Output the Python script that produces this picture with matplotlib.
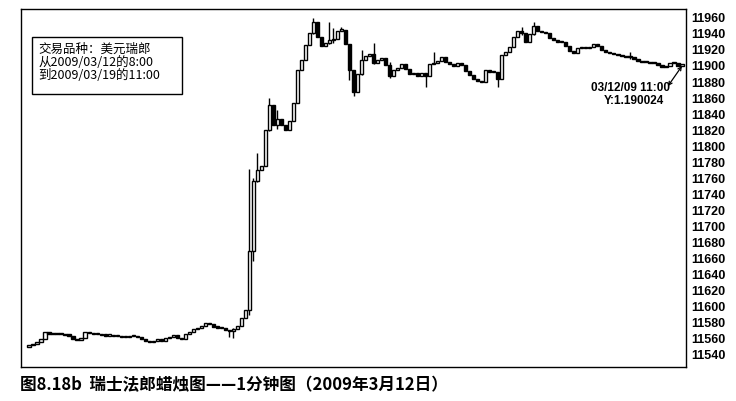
import numpy as np
import matplotlib
matplotlib.use("Agg")
import matplotlib.pyplot as plt
from matplotlib.patches import Rectangle

plt.rcParams['font.family'] = ['Noto Sans CJK SC', 'DejaVu Sans']

# 1-minute closes, USD/CHF
first_open = 11550
closes = [
    11552, 11554, 11556, 11560, 11569, 11566, 11566, 11567, 11566, 11565,
    11564, 11560, 11559, 11561, 11568, 11567, 11566, 11566, 11565, 11564,
    11564, 11563, 11563, 11562, 11562, 11563, 11564, 11562, 11560, 11557,
    11556, 11558, 11559, 11558, 11561, 11562, 11565, 11561, 11560, 11566,
    11569, 11572, 11574, 11576, 11580, 11578, 11575, 11574, 11573, 11571,
    11570, 11572, 11576, 11586, 11596, 11670, 11757, 11770, 11775, 11820,
    11851, 11826, 11834, 11826, 11820, 11832, 11854, 11895, 11907, 11926,
    11941, 11955, 11936, 11925, 11929, 11932, 11934, 11944, 11945, 11927,
    11895, 11867, 11890, 11907, 11912, 11915, 11904, 11907, 11910, 11901,
    11887, 11895, 11897, 11902, 11896, 11890, 11891, 11887, 11891, 11887,
    11902, 11904, 11906, 11911, 11905, 11902, 11900, 11904, 11901, 11894,
    11889, 11884, 11881, 11880, 11895, 11892, 11892, 11884, 11914, 11917,
    11924, 11936, 11944, 11941, 11930, 11940, 11950, 11944, 11942, 11941,
    11935, 11932, 11930, 11930, 11925, 11919, 11916, 11922, 11924, 11922,
    11924, 11927, 11925, 11920, 11917, 11916, 11915, 11914, 11912, 11911,
    11911, 11909, 11906, 11905, 11905, 11904, 11904, 11901, 11899, 11900,
    11904, 11904, 11900, 11902,
]

# candles with visible wicks: index, high, low
wick_idx = [50, 51, 55, 56, 57, 60, 62, 71, 75, 76, 78, 80, 81, 83, 86, 90, 99, 101, 117, 123, 126, 150]
wick_hi = [11571, 11573, 11772, 11761, 11791, 11860, 11845, 11960, 11955, 11947, 11948, 11927, 11895, 11920, 11929, 11905, 11891, 11917, 11892, 11949, 11955, 11917]
wick_lo = [11562, 11561, 11590, 11657, 11755, 11819, 11822, 11940, 11928, 11929, 11943, 11882, 11862, 11889, 11902, 11885, 11874, 11902, 11874, 11939, 11938, 11909]

y_ticks = list(range(11540, 11961, 20))
info_text = "交易品种：美元瑞郎\n从2009/03/12的8:00\n到2009/03/19的11:00"
caption = "图8.18b  瑞士法郎蜡烛图——1分钟图（2009年3月12日）"
note_time = "03/12/09 11:00"
note_value = "Y:1.190024"

closes = np.array(closes, dtype=float)
opens = np.concatenate([[first_open], closes[:-1]])
x = np.arange(len(closes))
highs = np.maximum(opens, closes)
lows = np.minimum(opens, closes)
for i, h, l in zip(wick_idx, wick_hi, wick_lo):
    highs[i] = max(highs[i], h)
    lows[i] = min(lows[i], l)

fig = plt.figure(figsize=(7.36, 4.01), dpi=100)
ax = fig.add_axes([21 / 736, 1 - 367 / 401, 665 / 736, 358 / 401])

ax.vlines(x, lows, highs, color='black', linewidth=1.0, zorder=1)
up = closes >= opens
body = np.maximum(np.abs(closes - opens), 1.5)
ax.bar(x[up], body[up], bottom=opens[up], width=0.8,
       facecolor='white', edgecolor='black', linewidth=1.0, zorder=2)
ax.bar(x[~up], body[~up], bottom=closes[~up], width=0.8,
       facecolor='black', edgecolor='black', linewidth=1.0, zorder=2)

ax.set_xlim(-2, 164)
ax.set_ylim(11525, 11971)
ax.set_xticks([])
ax.yaxis.tick_right()
ax.set_yticks(y_ticks)
ax.tick_params(axis='y', length=0, pad=4)
for lab in ax.get_yticklabels():
    lab.set_family(['Liberation Sans', 'DejaVu Sans'])
    lab.set_fontsize(9)
    lab.set_fontweight('bold')
for s in ax.spines.values():
    s.set_linewidth(1.0)

# info box in the upper left
ax.add_patch(Rectangle((0.0165, 0.762), 0.226, 0.16, transform=ax.transAxes,
                       facecolor='white', edgecolor='black', linewidth=1.0, zorder=3))
ax.text(0.026, 0.905, info_text, transform=ax.transAxes, fontsize=9,
        va='top', ha='left', linespacing=1.0, zorder=4)

# pointer to the last candle
ax.annotate('', xy=(len(closes) - 1, closes[-1] - 2), xytext=(159.5, 11875),
            arrowprops=dict(arrowstyle='<->', color='black', lw=0.9,
                            mutation_scale=6, shrinkA=0, shrinkB=0))
ax.text(160, 11873, note_time, fontsize=8.5, ha='right', va='center',
        fontweight='bold', family=['Liberation Sans', 'DejaVu Sans'])
ax.text(158.5, 11857, note_value, fontsize=8.5, ha='right', va='center',
        fontweight='bold', family=['Liberation Sans', 'DejaVu Sans'])

fig.text(20 / 736, 1 - 385 / 401, caption, fontsize=12, fontweight='bold',
         ha='left', va='center')

fig.savefig("out.png", dpi=100)
